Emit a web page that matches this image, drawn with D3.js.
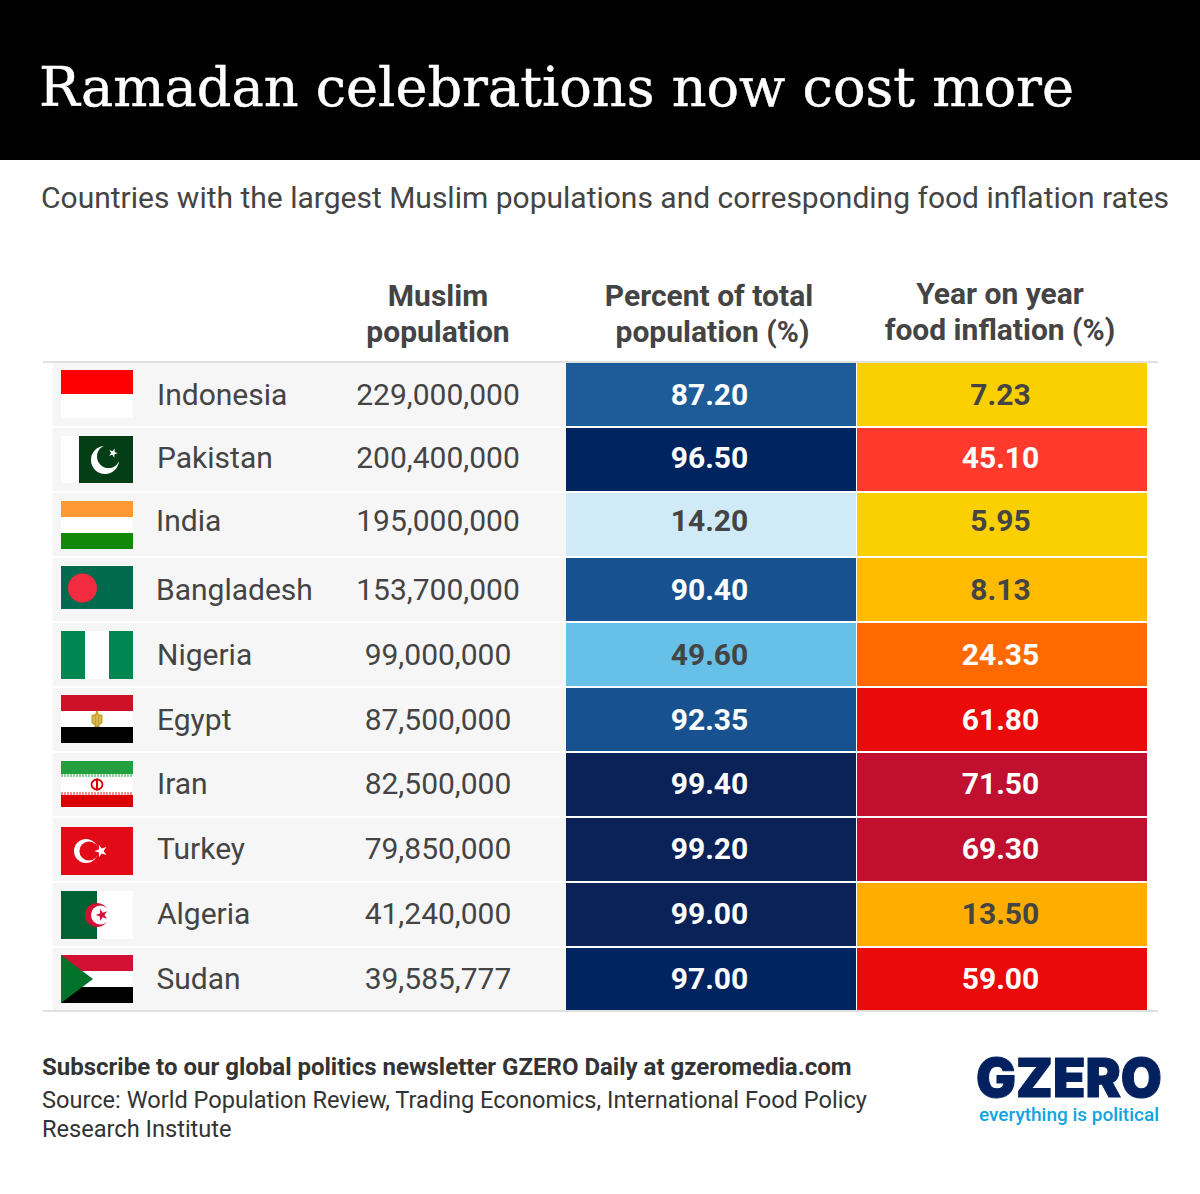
<!DOCTYPE html>
<html>
<head>
<meta charset="utf-8">
<script src="https://cdnjs.cloudflare.com/ajax/libs/d3/7.8.5/d3.min.js"></script>
<style>
html, body { margin: 0; padding: 0; background: #fff; }
svg { display: block; font-family: Roboto, sans-serif; }
</style>
</head>
<body>
<div id="chart"></div>
<script>
// values
const countries = ["Indonesia", "Pakistan", "India", "Bangladesh", "Nigeria", "Egypt", "Iran", "Turkey", "Algeria", "Sudan"];
const muslimPopulation = [229000000, 200400000, 195000000, 153700000, 99000000, 87500000, 82500000, 79850000, 41240000, 39585777];
const percentOfTotal = [87.20, 96.50, 14.20, 90.40, 49.60, 92.35, 99.40, 99.20, 99.00, 97.00];
const foodInflation = [7.23, 45.10, 5.95, 8.13, 24.35, 61.80, 71.50, 69.30, 13.50, 59.00];

const titleText = "Ramadan celebrations now cost more";
const subtitleText = "Countries with the largest Muslim populations and corresponding food inflation rates";
const popHeader = ["Muslim", "population"];
const pctHeader = ["Percent of total", "population (%)"];
const inflationHeader = ["Year on year", "food inflation (%)"];
const newsletterText = "Subscribe to our global politics newsletter GZERO Daily at gzeromedia.com";
const sourceLines = ["Source: World Population Review, Trading Economics, International Food Policy", "Research Institute"];

const width = 1200, height = 1194;
const textColor = "#444";

// the original table isn't quite regular, these are small hand nudges per row
const textNudgeY = [-1, -3, -5, -1, -1, -1, -2, -2, -2, -2];
const nameNudgeX = [0, 0, -1, -1, 0, 0, 0, 0, 0, -0.5];
const flagNudgeY = [-1, 0, 0, 0, 0, -1, 0, 1, 0, -1];

const svg = d3.select("#chart").append("svg").attr("width", width).attr("height", height);

// colour scales, stepped like the original table
const pctColor = d3.scaleThreshold()
    .domain([30, 70, 88, 95, 98])
    .range(["#d0ebf7", "#66c0e8", "#1d5c99", "#175190", "#00245f", "#0a2257"]);
const inflationColor = d3.scaleThreshold()
    .domain([8, 10, 20, 40, 50, 65])
    .range(["#fbd000", "#ffbb00", "#ffae00", "#ff6a00", "#ff3a2c", "#ea0a0a", "#c00f2f"]);
const darkLabel = new Set(["#d0ebf7", "#66c0e8", "#fbd000", "#ffbb00", "#ffae00"]);

const y = d3.scaleBand().domain(countries).range([363, 1013]);
const rowH = 63;
const popX = 438, pctLeft = 566, inflLeft = 857, cellW = 290;

// header band
svg.append("rect").attr("width", width).attr("height", 160).attr("fill", "#000");
svg.append("text").attr("x", 39).attr("y", 106)
    .attr("font-family", "'DejaVu Serif', serif").attr("font-size", 54)
    .attr("fill", "#fff").attr("stroke", "#fff").attr("stroke-width", 0.5)
    .attr("textLength", 1035).attr("lengthAdjust", "spacingAndGlyphs")
    .text(titleText);
svg.append("text").attr("x", 41).attr("y", 208)
    .attr("font-size", 30).attr("fill", textColor)
    .text(subtitleText);

// column heads
function columnHead(lines, centers, top) {
    svg.append("g").selectAll("text").data(lines).join("text")
        .attr("x", (d, i) => centers[i]).attr("y", (d, i) => top + i * 36)
        .attr("text-anchor", "middle")
        .attr("font-size", 30).attr("font-weight", 700).attr("fill", textColor)
        .text(d => d);
}
columnHead(popHeader, [popX, popX], 306);
columnHead(pctHeader, [709, 712.5], 306);
columnHead(inflationHeader, [1000, 1000], 304);

// table rows
const rows = svg.append("g").selectAll("g").data(countries).join("g")
    .attr("transform", d => `translate(0,${y(d)})`);

const textY = (d, i) => rowH / 2 + 11 + textNudgeY[i];

rows.append("rect").attr("x", 53).attr("width", pctLeft - 53).attr("height", rowH).attr("fill", "#f6f6f6");

rows.append("text").attr("x", (d, i) => 157 + nameNudgeX[i]).attr("y", textY)
    .attr("font-size", 30).attr("fill", textColor)
    .text(d => d);

rows.append("text").attr("x", popX).attr("y", textY)
    .attr("text-anchor", "middle").attr("font-size", 30).attr("fill", textColor)
    .text((d, i) => d3.format(",")(muslimPopulation[i]));

function valueColumn(values, colorScale, left) {
    rows.append("rect").attr("x", left).attr("width", cellW).attr("height", rowH)
        .attr("fill", (d, i) => colorScale(values[i]));
    rows.append("text").attr("x", left + cellW / 2 - 1.5).attr("y", textY)
        .attr("text-anchor", "middle").attr("font-size", 30).attr("font-weight", 700)
        .attr("fill", (d, i) => darkLabel.has(colorScale(values[i])) ? textColor : "#fff")
        .text((d, i) => d3.format(".2f")(values[i]));
}
valueColumn(percentOfTotal, pctColor, pctLeft);
valueColumn(foodInflation, inflationColor, inflLeft);

// rules above and below the table
svg.append("rect").attr("x", 43).attr("y", 361).attr("width", 1115).attr("height", 2).attr("fill", "#e0e0e0");
svg.append("rect").attr("x", 43).attr("y", 1010).attr("width", 1115).attr("height", 2).attr("fill", "#e0e0e0");

// flags, drawn in a 72x48 box
const flagW = 72, flagH = 48;

function stripesH(g, colors) {
    const s = d3.scaleBand().domain(d3.range(colors.length)).range([0, flagH]);
    g.selectAll(null).data(colors).join("rect")
        .attr("width", flagW).attr("y", (d, i) => s(i)).attr("height", s.bandwidth()).attr("fill", d => d);
}
function stripesV(g, colors) {
    const s = d3.scaleBand().domain(d3.range(colors.length)).range([0, flagW]);
    g.selectAll(null).data(colors).join("rect")
        .attr("x", (d, i) => s(i)).attr("width", s.bandwidth()).attr("height", flagH).attr("fill", d => d);
}
function crescent(g, cx, cy, r, dx, dy, r2, color, bg) {
    g.append("circle").attr("cx", cx).attr("cy", cy).attr("r", r).attr("fill", color);
    g.append("circle").attr("cx", cx + dx).attr("cy", cy + dy).attr("r", r2).attr("fill", bg);
}
function star(g, cx, cy, area, color, rot) {
    g.append("path").attr("d", d3.symbol(d3.symbolStar, area)())
        .attr("transform", `translate(${cx},${cy}) rotate(${rot})`).attr("fill", color);
}

const flagDrawers = {
    Indonesia: g => stripesH(g, ["#ff0000", "#fff"]),
    Pakistan: g => {
        g.append("rect").attr("width", 18).attr("height", 47).attr("fill", "#fff");
        g.append("rect").attr("x", 18).attr("width", 54).attr("height", 47).attr("fill", "#033e17");
        crescent(g, 44, 24, 14, 3.5, -3.5, 11.5, "#fff", "#033e17");
        star(g, 52, 17, 26, "#fff", 20);
    },
    India: g => stripesH(g, ["#ff9933", "#fff", "#138808"]),
    Bangladesh: g => {
        g.append("rect").attr("width", flagW).attr("height", 43).attr("fill", "#006a4e");
        g.append("circle").attr("cx", 21.5).attr("cy", 22).attr("r", 14.5).attr("fill", "#f42a41");
    },
    Nigeria: g => stripesV(g, ["#008751", "#fff", "#008751"]),
    Egypt: g => {
        stripesH(g, ["#ce1126", "#fff", "#000"]);
        // rough eagle: head, wings and tail
        g.append("path").attr("fill", "#c8a227")
            .attr("d", "M35 16 L37 16 L37.5 19 L41.5 20 L41.5 28 L38.5 30 L39 32 L33 32 L33.5 30 L30.5 28 L30.5 20 L34.5 19 Z");
        g.append("path").attr("fill", "none").attr("stroke", "#f3e3a8").attr("stroke-width", 0.7)
            .attr("d", "M33 21 V28 M36 20 V30 M39 21 V28");
    },
    Iran: g => {
        g.append("rect").attr("width", flagW).attr("height", 46).attr("fill", "#fff");
        g.append("rect").attr("width", flagW).attr("height", 13).attr("fill", "#239f40");
        g.append("rect").attr("y", 34).attr("width", flagW).attr("height", 12).attr("fill", "#da0000");
        // dashed fringes where the script band sits
        g.append("line").attr("x2", flagW).attr("y1", 14.5).attr("y2", 14.5)
            .attr("stroke", "#8fcf9f").attr("stroke-width", 3).attr("stroke-dasharray", "2 1");
        g.append("line").attr("x2", flagW).attr("y1", 32.5).attr("y2", 32.5)
            .attr("stroke", "#ee9090").attr("stroke-width", 3).attr("stroke-dasharray", "2 1");
        g.append("ellipse").attr("cx", 36).attr("cy", 23.5).attr("rx", 5.5).attr("ry", 5)
            .attr("fill", "none").attr("stroke", "#da0000").attr("stroke-width", 1.8);
        g.append("rect").attr("x", 35).attr("y", 17.5).attr("width", 2).attr("height", 12).attr("fill", "#da0000");
    },
    Turkey: g => {
        g.append("rect").attr("width", flagW).attr("height", flagH).attr("fill", "#e30a17");
        crescent(g, 25, 24, 12, 3, 0, 9.6, "#fff", "#e30a17");
        star(g, 40, 24, 50, "#fff", -90);
    },
    Algeria: g => {
        stripesV(g, ["#006233", "#fff"]);
        // crescent straddles both halves, so cut it with a half green, half white disc
        g.append("circle").attr("cx", 36).attr("cy", 24).attr("r", 12).attr("fill", "#d21034");
        g.append("circle").attr("cx", 39.5).attr("cy", 24).attr("r", 9.5).attr("fill", "#fff");
        star(g, 41, 24, 45, "#d21034", -90);
    },
    Sudan: g => {
        stripesH(g, ["#d21034", "#fff", "#000"]);
        g.append("path").attr("fill", "#007229")
            .attr("d", `M0 0 L32 ${flagH / 2} L0 ${flagH} Z`);
    }
};

const flags = rows.append("g").attr("transform", (d, i) => `translate(61,${8 + flagNudgeY[i]})`);
flags.each(function(d) { flagDrawers[d](d3.select(this)); });

// footer
svg.append("text").attr("x", 42).attr("y", 1075)
    .attr("font-size", 24).attr("font-weight", 700).attr("fill", "#333")
    .text(newsletterText);
svg.append("g").selectAll("text").data(sourceLines).join("text")
    .attr("x", 42).attr("y", (d, i) => 1108 + i * 29)
    .attr("font-size", 23.6).attr("fill", "#333")
    .text(d => d);

// logo
svg.append("text").attr("x", 976).attr("y", 1097)
    .attr("font-family", "Inter, Roboto, sans-serif").attr("font-size", 54).attr("font-weight", 900)
    .attr("fill", "#03215f").attr("stroke", "#03215f").attr("stroke-width", 1)
    .attr("textLength", 186).attr("lengthAdjust", "spacingAndGlyphs")
    .text("GZERO");
svg.append("text").attr("x", 979).attr("y", 1120.5)
    .attr("font-size", 18).attr("font-weight", 500).attr("fill", "#0ea5e0")
    .attr("textLength", 180).attr("lengthAdjust", "spacingAndGlyphs")
    .text("everything is political");
</script>
</body>
</html>
